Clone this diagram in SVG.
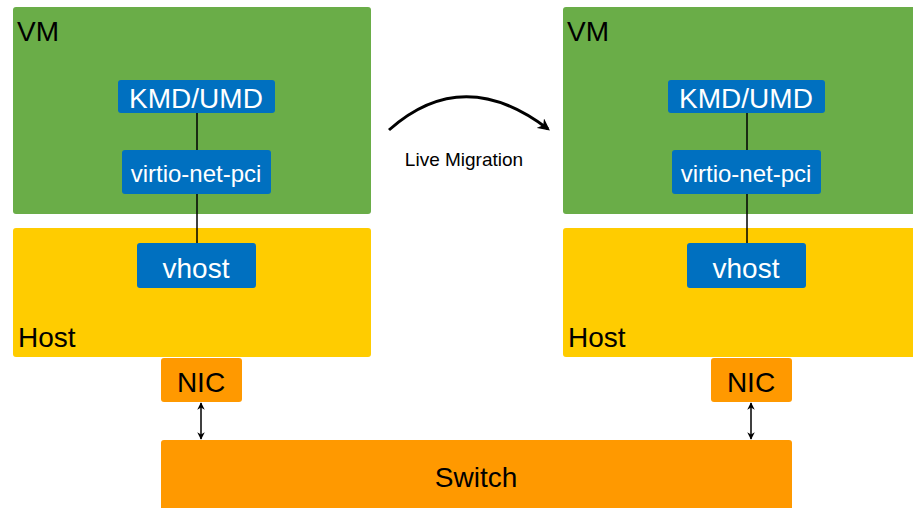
<svg xmlns="http://www.w3.org/2000/svg" width="913" height="508" viewBox="0 0 913 508">
<style>
text{font-family:"Liberation Sans",Arial,sans-serif}
.vm{fill:#6aad48}
.host{fill:#ffcc00}
.org{fill:#ff9900}
.blue{fill:#0070c0}
.lbl{font-size:28px;fill:#000}
.w{fill:#fff;text-anchor:middle}
.c{text-anchor:middle}
.ln{stroke:#000;stroke-width:1.5;fill:none}
</style>
<defs>
<marker id="ah" viewBox="0 0 10 10" refX="9" refY="5" markerWidth="5" markerHeight="5" orient="auto-start-reverse">
<path d="M0,0 L10,5 L0,10 L3,5 Z" fill="#000"/>
</marker>
<marker id="big" viewBox="0 0 10 10" refX="8" refY="5" markerWidth="4" markerHeight="4" orient="auto">
<path d="M0,0 L10,5 L0,10 L3,5 Z" fill="#000"/>
</marker>
</defs>
<g id="vm1"><rect class="vm" x="13" y="7" width="358" height="207" rx="3"/><text class="lbl" x="17" y="41" font-size="30">VM</text></g>
<g id="host1"><rect class="host" x="13" y="228" width="358" height="129" rx="3"/><text class="lbl" x="18" y="347">Host</text></g>
<g id="vm2"><rect class="vm" x="563" y="7" width="360" height="207" rx="3"/><text class="lbl" x="567" y="41" font-size="30">VM</text></g>
<g id="host2"><rect class="host" x="563" y="228" width="360" height="129" rx="3"/><text class="lbl" x="568" y="347">Host</text></g>
<g id="switch"><rect class="org" x="161" y="440" width="631" height="80" rx="3"/><text class="lbl c" x="476" y="487">Switch</text></g>
<g id="nic1"><rect class="org" x="161" y="358" width="81" height="44" rx="3"/><text class="lbl c" x="201" y="392">NIC</text></g>
<g id="nic2"><rect class="org" x="711" y="358" width="81" height="44" rx="3"/><text class="lbl c" x="751" y="392">NIC</text></g>
<g id="kmd1"><rect class="blue" x="118" y="80" width="157" height="33" rx="3"/><text class="w" x="196" y="108" font-size="28">KMD/UMD</text></g>
<g id="virtio1"><rect class="blue" x="122" y="150" width="149" height="44" rx="3"/><text class="w" x="196" y="182" font-size="24">virtio-net-pci</text></g>
<g id="vhost1"><rect class="blue" x="137" y="243" width="119" height="45" rx="3"/><text class="w" x="196" y="278" font-size="28">vhost</text></g>
<g id="kmd2"><rect class="blue" x="668" y="80" width="157" height="33" rx="3"/><text class="w" x="746" y="108" font-size="28">KMD/UMD</text></g>
<g id="virtio2"><rect class="blue" x="672" y="150" width="149" height="44" rx="3"/><text class="w" x="746" y="182" font-size="24">virtio-net-pci</text></g>
<g id="vhost2"><rect class="blue" x="687" y="243" width="119" height="45" rx="3"/><text class="w" x="746" y="278" font-size="28">vhost</text></g>
<g id="migration-label"><text x="464" y="166" font-size="19" class="c">Live Migration</text></g>
<g id="connectors">
<line class="ln" x1="197" y1="113" x2="197" y2="150"/>
<line class="ln" x1="197" y1="194" x2="197" y2="243"/>
<line class="ln" x1="747" y1="113" x2="747" y2="150"/>
<line class="ln" x1="747" y1="194" x2="747" y2="243"/>
<line class="ln" x1="201" y1="403" x2="201" y2="439" marker-start="url(#ah)" marker-end="url(#ah)"/>
<line class="ln" x1="751" y1="403" x2="751" y2="439" marker-start="url(#ah)" marker-end="url(#ah)"/>
<path d="M389,130 Q463,64 548,129" fill="none" stroke="#000" stroke-width="3" marker-end="url(#big)"/>
</g>
</svg>
